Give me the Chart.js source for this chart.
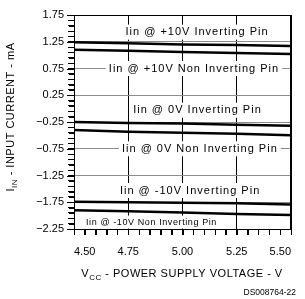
<!DOCTYPE html>
<html>
<head>
<meta charset="utf-8">
<script src="https://cdn.jsdelivr.net/npm/chart.js@4.4.1/dist/chart.umd.min.js"></script>
<style>
  html, body { margin: 0; padding: 0; background: #fff; }
  #wrap { width: 305px; height: 299px; }
</style>
</head>
<body>
<div id="wrap"><canvas id="iinChart" width="305" height="299"></canvas></div>
<script>
// supply voltage (x) and input current curves (mA)
const voltages = [4.5, 4.75, 5.0, 5.25, 5.5];
const inv10 = [1.24, 1.22, 1.20, 1.19, 1.17];
const non10 = [1.10, 1.08, 1.06, 1.04, 1.02];
const inv0 = [-0.25, -0.27, -0.28, -0.30, -0.32];
const non0 = [-0.40, -0.43, -0.45, -0.47, -0.50];
const invM10 = [-1.74, -1.75, -1.76, -1.77, -1.79];
const nonM10 = [-1.90, -1.92, -1.94, -1.97, -1.99];

const curveNames = [
  "Iin @ +10V Inverting Pin",
  "Iin @ +10V Non Inverting Pin",
  "Iin @ 0V Inverting Pin",
  "Iin @ 0V Non Inverting Pin",
  "Iin @ -10V Inverting Pin",
  "Iin @ -10V Non Inverting Pin"
];

// tick layout
const yMin = -2.25, yMax = 1.75, yMinor = 0.1, yMajor = 0.5;
const xMin = 4.5, xMax = 5.5, xMinor = 0.05, xMajor = 0.25;

// where each curve name is written (data units) and its font size
const namePlaces = [
  { x: 5.067, y: 1.43, size: 11 },
  { x: 5.053, y: 0.75, size: 11 },
  { x: 5.069, y: -0.03, size: 11 },
  { x: 5.08, y: -0.75, size: 11 },
  { x: 5.035, y: -1.53, size: 11 },
  { x: 4.857, y: -2.12, size: 9 }
];

const FONT = "'Liberation Sans', Arial, sans-serif";

function steps(min, max, step) {
  const out = [];
  const n = Math.round((max - min) / step);
  for (let i = 0; i <= n; i++) out.push({ value: Math.round((min + i * step) * 1000) / 1000 });
  return out;
}
function onStep(v, base, step) {
  const k = (v - base) / step;
  return Math.abs(k - Math.round(k)) < 1e-6;
}
function fmt(v) {
  return v.toFixed(2).replace("-", "\u2212");
}

function toPoints(arr) {
  return voltages.map((v, i) => ({ x: v, y: arr[i] }));
}

const series = [inv10, non10, inv0, non0, invM10, nonM10];

const labelPlugin = {
  id: "curveLabels",
  beforeDatasetsDraw(chart) {
    const { ctx, chartArea, scales } = chart;
    ctx.save();
    ctx.strokeStyle = "#000";
    ctx.lineWidth = 1;
    ctx.beginPath();
    // right frame edge
    ctx.moveTo(Math.round(chartArea.right) - 0.5, chartArea.top);
    ctx.lineTo(Math.round(chartArea.right) - 0.5, chartArea.bottom);
    // minor + major tick marks from the scales' own ticks
    scales.x.ticks.forEach((t) => {
      const px = Math.round(scales.x.getPixelForValue(t.value)) + 0.5;
      ctx.moveTo(px, chartArea.bottom);
      ctx.lineTo(px, chartArea.bottom + 6);
    });
    scales.y.ticks.forEach((t) => {
      const py = Math.round(scales.y.getPixelForValue(t.value)) + 0.5;
      const len = onStep(t.value, yMin, yMajor) ? 7 : 5;
      ctx.moveTo(chartArea.left, py);
      ctx.lineTo(chartArea.left - len, py);
    });
    ctx.stroke();
    ctx.restore();
  },
  afterDatasetsDraw(chart) {
    const { ctx, scales } = chart;
    ctx.save();
    ctx.textAlign = "center";
    ctx.textBaseline = "middle";
    namePlaces.forEach((p, i) => {
      ctx.font = p.size + "px " + FONT;
      ctx.letterSpacing = p.size > 10 ? "1px" : "0.6px";
      const px = scales.x.getPixelForValue(p.x);
      const py = scales.y.getPixelForValue(p.y);
      const w = ctx.measureText(curveNames[i]).width;
      ctx.fillStyle = "#fff";
      ctx.fillRect(px - w / 2 - 3, py - p.size / 2 - 2, w + 6, p.size + 4);
      ctx.fillStyle = "#000";
      ctx.fillText(curveNames[i], px, py);
    });
    ctx.restore();
  },
  afterDraw(chart) {
    const { ctx } = chart;
    ctx.save();
    ctx.fillStyle = "#000";
    ctx.textBaseline = "alphabetic";
    ctx.letterSpacing = "0.5px";

    // x axis title with subscript
    const xParts = [["V", 11, 0], ["CC", 8, 3], [" - POWER SUPPLY VOLTAGE - V", 11, 0]];
    let total = 0;
    xParts.forEach(([t, s]) => { ctx.font = s + "px " + FONT; total += ctx.measureText(t).width; });
    let cx = 182 - total / 2;
    xParts.forEach(([t, s, dy]) => {
      ctx.font = s + "px " + FONT;
      ctx.fillText(t, cx, 277 + dy);
      cx += ctx.measureText(t).width;
    });

    // y axis title, rotated
    const yParts = [["I", 11, 0], ["IN", 8, 3], [" - INPUT CURRENT - mA", 11, 0]];
    total = 0;
    yParts.forEach(([t, s]) => { ctx.font = s + "px " + FONT; total += ctx.measureText(t).width; });
    ctx.translate(14, 117);
    ctx.rotate(-Math.PI / 2);
    cx = -total / 2;
    yParts.forEach(([t, s, dy]) => {
      ctx.font = s + "px " + FONT;
      ctx.fillText(t, cx, dy);
      cx += ctx.measureText(t).width;
    });
    ctx.restore();

    ctx.save();
    ctx.font = "8.5px " + FONT;
    ctx.textAlign = "right";
    ctx.fillStyle = "#000";
    ctx.fillText("DS008764-22", 296, 295);
    ctx.restore();
  }
};

new Chart(document.getElementById("iinChart"), {
  type: "line",
  data: {
    datasets: series.map((arr, i) => ({
      label: curveNames[i],
      data: toPoints(arr),
      borderColor: "#000",
      borderWidth: 2.5,
      pointRadius: 0,
      tension: 0,
      fill: false
    }))
  },
  options: {
    responsive: false,
    animation: false,
    devicePixelRatio: 1,
    layout: { padding: { left: 0, right: 14, top: 15, bottom: 0 } },
    plugins: { legend: { display: false }, tooltip: { enabled: false } },
    scales: {
      x: {
        type: "linear",
        min: xMin,
        max: xMax,
        afterBuildTicks: (s) => { s.ticks = steps(xMin, xMax, xMinor); },
        afterFit: (s) => { s.height = 70; },
        ticks: {
          autoSkip: false,
          maxRotation: 0,
          align: "inner",
          padding: 10,
          color: "#000",
          font: { family: FONT, size: 11 },
          callback: (v) => onStep(v, xMin, xMajor) ? v.toFixed(2) : ""
        },
        grid: {
          color: (c) => {
            const v = c.tick && c.tick.value;
            return v !== undefined && v > xMin && onStep(v, xMin, xMajor) ? "#000" : "rgba(0,0,0,0)";
          },
          tickColor: "#000",
          tickLength: 6,
          lineWidth: 1
        },
        border: { color: "#000", width: 1 }
      },
      y: {
        min: yMin,
        max: yMax,
        afterBuildTicks: (s) => { s.ticks = steps(yMin, yMax, yMinor); },
        afterFit: (s) => { s.width = 74; },
        ticks: {
          autoSkip: false,
          padding: 4,
          color: "#000",
          font: { family: FONT, size: 11 },
          callback: (v) => onStep(v, yMin, yMajor) ? fmt(v) : ""
        },
        grid: {
          color: (c) => {
            const v = c.tick && c.tick.value;
            if (v === undefined || !onStep(v, yMin, yMajor)) return "rgba(0,0,0,0)";
            if (Math.abs(v - yMax) < 1e-6) return "#000";
            return "#8c8c8c";
          },
          tickColor: "#000",
          tickLength: 6,
          lineWidth: 1
        },
        border: { color: "#000", width: 1 }
      }
    }
  },
  plugins: [labelPlugin]
});
</script>
</body>
</html>
